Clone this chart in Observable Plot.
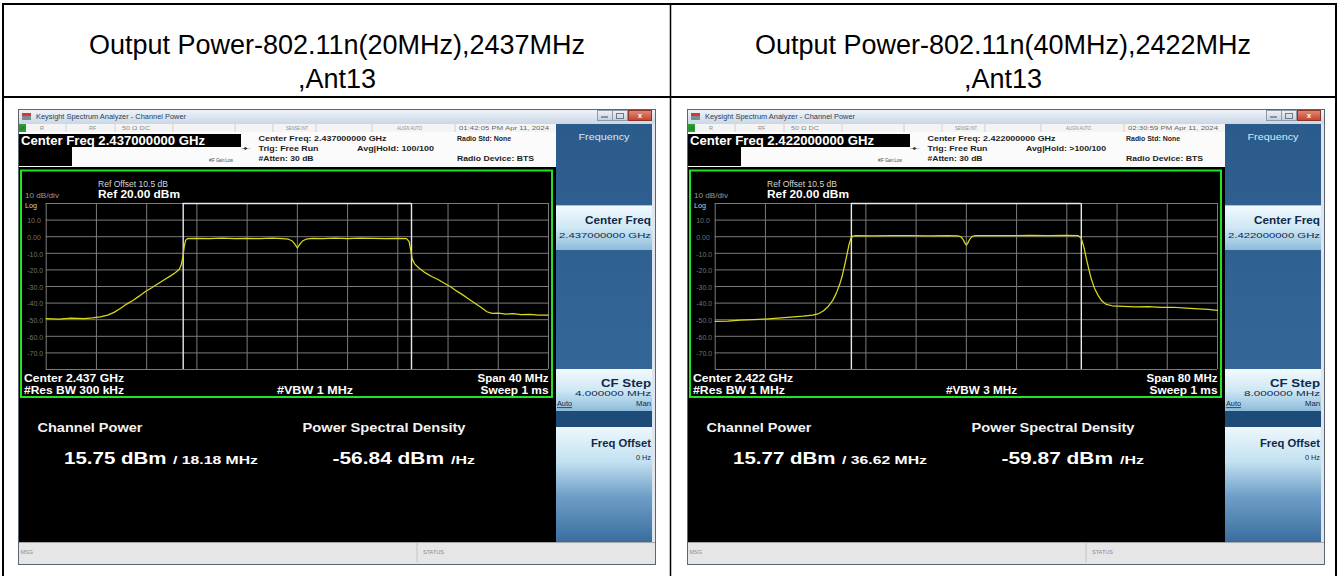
<!DOCTYPE html>
<html><head><meta charset="utf-8">
<script src="https://cdn.jsdelivr.net/npm/d3@7"></script>
<script src="https://cdn.jsdelivr.net/npm/@observablehq/plot@0.6"></script>
<style>
html,body{margin:0;padding:0;background:#fff;}
#root{position:relative;width:1339px;height:576px;overflow:hidden;}
#root > svg{position:absolute;left:0;top:0;}
</style></head><body><div id="root"></div>
<script>
// ---------- data ----------
const titleLine1 = ["Output Power-802.11n(20MHz),2437MHz", "Output Power-802.11n(40MHz),2422MHz"];
const titleLine2 = [",Ant13", ",Ant13"];
const centerFreqLong = ["2.437000000", "2.422000000"];
const centerFreqShort = ["2.437", "2.422"];
const spanMHz = [40, 80];
const rbwLabel = ["300 kHz", "1 MHz"];
const vbwLabel = ["1 MHz", "3 MHz"];
const avgHold = ["100/100", ">100/100"];
const timeStamp = ["01:42:05 PM Apr 11, 2024", "02:30:59 PM Apr 11, 2024"];
const cfStep = ["4.000000 MHz", "8.000000 MHz"];
const channelPower = ["15.75", "15.77"];
const integBW = [18.18, 36.62];
const psdValue = ["-56.84", "-59.87"];
const refLevel = 20;
const dbPerDiv = 10;
const yTickValues = [10, 0, -10, -20, -30, -40, -50, -60, -70];
const yTickLabels = ["10.0", "0.00", "-10.0", "-20.0", "-30.0", "-40.0", "-50.0", "-60.0", "-70.0"];

const freq20 = [-20.0,-19.0,-18.0,-17.0,-16.3,-15.7,-15.1,-14.6,-14.1,-13.6,-13.1,-12.6,-12.1,-11.6,-11.1,-10.6,-10.1,-9.7,-9.4,-9.25,-9.12,-9.0,-8.9,-8.75,-8.0,-7.0,-6.0,-5.0,-4.0,-3.0,-2.0,-1.2,-0.7,-0.4,-0.2,0.0,0.2,0.4,0.7,1.2,2.0,3.0,4.0,5.0,6.0,7.0,8.0,8.7,8.9,9.05,9.15,9.35,9.7,10.2,10.7,11.2,11.7,12.2,12.7,13.2,13.7,14.2,14.7,15.1,15.5,16.0,16.6,17.2,17.8,18.5,19.2,20.0];
const power20 = [-49.4,-49.6,-49.1,-49.3,-48.9,-48.3,-47.2,-45.6,-43.2,-40.6,-38.4,-35.8,-33.0,-30.8,-28.4,-25.9,-23.6,-21.6,-19.6,-17.0,-12.5,-5.5,-2.2,-1.2,-1.0,-1.2,-0.9,-1.1,-1.0,-1.2,-0.9,-1.1,-1.5,-2.6,-4.5,-6.8,-4.5,-2.6,-1.5,-1.0,-1.1,-0.9,-1.1,-0.9,-1.0,-1.1,-1.0,-1.2,-3.0,-9.0,-13.5,-16.5,-19.0,-21.8,-24.0,-25.8,-28.0,-30.2,-32.8,-35.2,-37.8,-40.4,-43.0,-45.2,-46.2,-46.0,-46.6,-46.4,-46.9,-46.8,-47.3,-47.2];

const freq40 = [-40.0,-38.0,-36.0,-34.0,-32.0,-30.0,-28.0,-26.0,-24.5,-23.5,-22.8,-22.0,-21.3,-20.7,-20.2,-19.8,-19.4,-19.0,-18.7,-18.4,-18.1,-17.6,-15.0,-12.0,-9.0,-6.0,-3.0,-1.4,-0.9,-0.5,-0.2,0.0,0.2,0.5,0.9,1.4,4.0,7.0,10.0,13.0,16.0,17.8,18.3,18.7,19.1,19.5,19.9,20.4,21.0,21.6,22.3,23.2,25.0,27.0,29.0,31.0,33.0,35.0,37.0,38.5,40.0];
const power40 = [-51.0,-50.8,-50.3,-50.0,-49.6,-49.0,-48.5,-47.9,-47.2,-46.3,-44.8,-42.0,-38.5,-34.0,-29.0,-24.0,-17.5,-10.5,-5.0,-1.2,0.3,0.6,0.5,0.7,0.6,0.5,0.6,0.5,0.0,-1.8,-4.0,-5.0,-4.0,-1.8,0.0,0.6,0.7,0.6,0.8,0.7,0.8,0.7,-1.0,-6.0,-13.0,-19.5,-25.5,-31.0,-35.5,-38.8,-40.8,-41.6,-41.9,-42.3,-42.1,-42.6,-42.5,-43.0,-43.5,-43.8,-44.4];

const traces = [[freq20, power20], [freq40, power40]];
const offsetsX = [0, 669];

// ---------- helpers ----------
const FONT = "'Liberation Sans', Arial, sans-serif";
const W = 1339, H = 576;
const root = d3.select("#root");
const bg = root.append("svg").attr("width", W).attr("height", H).style("z-index", 0);
const plotLayer = root.append("div").style("position","absolute").style("left","0").style("top","0")
  .style("width", W + "px").style("height", H + "px").style("z-index",1);
const fg = root.append("svg").attr("width", W).attr("height", H).style("z-index", 2)
  .style("pointer-events","none").style("font-family", FONT);
bg.style("font-family", FONT);

const defs = bg.append("defs");
function lg(id, stops) {
  const g = defs.append("linearGradient").attr("id", id).attr("x1",0).attr("y1",0).attr("x2",0).attr("y2",1);
  stops.forEach(([o,c]) => g.append("stop").attr("offset", o).attr("stop-color", c));
}
lg("tbar", [[0,"#eef3f9"],[1,"#cbd7e6"]]);
lg("skey", [[0,"#f3fafd"],[0.5,"#cfe8f5"],[1,"#8dbcdb"]]);
lg("skeyLong", [[0,"#eef8fc"],[0.3,"#c3e1f1"],[0.6,"#6f9fc8"],[1,"#3a6d9f"]]);
lg("panel", [[0,"#2b5b8b"],[1,"#3a6ea0"]]);
lg("closeb", [[0,"#e38a79"],[1,"#c4412c"]]);
lg("minb", [[0,"#eef2f7"],[1,"#c4cfdc"]]);

function R(g, x, y, w, h, fill, o = {}) {
  const r = g.append("rect").attr("x", x).attr("y", y).attr("width", w).attr("height", h).attr("fill", fill);
  if (o.stroke) r.attr("stroke", o.stroke).attr("stroke-width", o.sw || 1);
  return r;
}
function L(g, x1, y1, x2, y2, stroke, sw = 1) {
  g.append("line").attr("x1", x1).attr("y1", y1).attr("x2", x2).attr("y2", y2).attr("stroke", stroke).attr("stroke-width", sw);
}
function T(g, x, y, s, o = {}) {
  const t = g.append("text").attr("x", x).attr("y", y).attr("dy", "0.35em").text(s)
    .attr("font-size", o.size || 8).attr("fill", o.fill || "#000").attr("text-anchor", o.anchor || "start");
  if (o.weight) t.attr("font-weight", o.weight);
  if (o.len) t.attr("textLength", o.len).attr("lengthAdjust", "spacingAndGlyphs");
  if (o.deco) t.attr("text-decoration", o.deco);
  return t;
}

// ---------- table ----------
R(bg, 0, 0, W, H, "#fff");
L(bg, 2, 4, 1337, 4, "#000", 2);
L(bg, 3, 3, 3, 576, "#000", 2);
L(bg, 1336, 3, 1336, 576, "#000", 2);
L(bg, 2, 97, 1337, 97, "#000", 2);
L(bg, 670.5, 4, 670.5, 576, "#000", 1.5);
const cellCenters = [337, 1003];
cellCenters.forEach((cx, i) => {
  T(bg, cx, 45, titleLine1[i], {size: 27, fill: "#000", anchor: "middle"});
  T(bg, cx, 79, titleLine2[i], {size: 27, fill: "#000", anchor: "middle"});
});

// ---------- windows ----------
offsetsX.forEach((ox, i) => {
  const b = bg.append("g");
  const f = fg.append("g");
  // frame
  R(b, ox + 18.5, 109.5, 637, 455, "#dfe5ec", {stroke: "#5d6670"});
  R(b, ox + 19, 110, 636, 14, "url(#tbar)");
  R(b, ox + 22, 113, 9, 3, "#d23a2e");
  R(b, ox + 22, 116, 9, 4, "#7f8a99");
  T(b, ox + 36, 117, "Keysight Spectrum Analyzer - Channel Power", {size: 6.5, fill: "#2c3e57", len: 150});
  R(b, ox + 597.5, 110.5, 15, 10, "url(#minb)", {stroke: "#8d9aab"});
  R(b, ox + 612.5, 110.5, 15, 10, "url(#minb)", {stroke: "#8d9aab"});
  L(b, ox + 601, 117, ox + 608, 117, "#6d7a8c", 1.5);
  R(b, ox + 616.5, 113.5, 7, 5, "none", {stroke: "#6d7a8c"});
  R(b, ox + 628.5, 110.5, 23, 10, "url(#closeb)", {stroke: "#8c3526"});
  T(b, ox + 640, 115.5, "x", {size: 8, fill: "#fff", anchor: "middle", weight: "bold"});
  // status row
  R(b, ox + 19, 124, 537, 8, "#f4f4f4");
  R(b, ox + 19, 124, 7, 8, "#2e9c35");
  T(b, ox + 20, 128, "LXI", {size: 4.5, fill: "#062", len: 5.5});
  [66, 115, 173, 235, 273, 316, 372, 455].forEach(sx => L(b, ox + sx, 124, ox + sx, 132, "#c9c9c9", 0.8));
  const sFill = "#8a8a8a";
  T(b, ox + 40, 128, "R", {size: 5.5, fill: sFill});
  T(b, ox + 89, 128, "RF", {size: 5.5, fill: sFill});
  T(b, ox + 122, 128, "50 Ω   DC", {size: 5.5, fill: sFill, len: 28});
  T(b, ox + 286, 128, "SENSE:INT", {size: 5.5, fill: sFill, len: 22});
  T(b, ox + 397, 128, "ALIGN AUTO", {size: 5.5, fill: sFill, len: 25});
  T(b, ox + 459, 128, timeStamp[i], {size: 5.5, fill: "#666", len: 90});
  // header
  R(b, ox + 19, 132, 537, 35, "#fbfbfb");
  R(b, ox + 19, 134, 222, 13, "#000");
  R(b, ox + 19, 147, 53, 19, "#000");
  T(b, ox + 21, 140.5, "Center Freq " + centerFreqLong[i] + " GHz", {size: 12, weight: "bold", fill: "#fff", len: 184});
  const hf = "#1e1e1e";
  T(b, ox + 258.5, 138.5, "Center Freq: " + centerFreqLong[i] + " GHz", {size: 8, weight: "bold", fill: hf, len: 128});
  T(b, ox + 258.5, 148.5, "Trig: Free Run", {size: 8, weight: "bold", fill: hf, len: 60});
  T(b, ox + 258.5, 158.5, "#Atten: 30 dB", {size: 8, weight: "bold", fill: hf, len: 55});
  T(b, ox + 357, 148.5, "Avg|Hold: " + avgHold[i], {size: 8, weight: "bold", fill: hf, len: i ? 80 : 77});
  T(b, ox + 457, 138.5, "Radio Std: None", {size: 8, weight: "bold", fill: hf, len: 54});
  T(b, ox + 457, 158.5, "Radio Device: BTS", {size: 8, weight: "bold", fill: hf, len: 77});
  T(b, ox + 209, 160, "#IF Gain:Low", {size: 5.5, fill: "#444", len: 24});
  T(b, ox + 241, 148, "-◂▸-", {size: 6, fill: "#333", len: 9});
  // display background
  R(b, ox + 19, 167, 537, 375, "#000");
  // soft key panel
  R(b, ox + 556, 124, 96, 418, "url(#panel)");
  R(b, ox + 556, 205, 96, 45, "url(#skey)");
  L(b, ox + 556, 205.5, ox + 652, 205.5, "#9fc6e0", 1);
  R(b, ox + 556, 369, 96, 42, "url(#skey)");
  R(b, ox + 556, 411, 96, 16, "#1f4b79");
  R(b, ox + 556, 427, 96, 115, "url(#skeyLong)");
  T(b, ox + 604, 137, "Frequency", {size: 9.5, fill: "#dce9f6", anchor: "middle", len: 51});
  const kf = "#10284a";
  T(b, ox + 651, 220, "Center Freq", {size: 10, weight: "bold", fill: kf, anchor: "end", len: 66});
  T(b, ox + 651, 235, centerFreqLong[i] + " GHz", {size: 8, fill: kf, anchor: "end", len: 92});
  T(b, ox + 651, 383, "CF Step", {size: 10, weight: "bold", fill: kf, anchor: "end", len: 50});
  T(b, ox + 651, 393.5, cfStep[i], {size: 8, fill: kf, anchor: "end", len: 76});
  T(b, ox + 557, 403.5, "Auto", {size: 8, fill: kf, len: 15, deco: "underline"});
  T(b, ox + 651, 403.5, "Man", {size: 8, fill: kf, anchor: "end", len: 15});
  T(b, ox + 651, 443, "Freq Offset", {size: 10, weight: "bold", fill: kf, anchor: "end", len: 60});
  T(b, ox + 651, 457, "0 Hz", {size: 8, fill: kf, anchor: "end", len: 15});
  // status bar
  R(b, ox + 19, 542, 636, 20, "#e6e6e6");
  L(b, ox + 19, 542.5, ox + 655, 542.5, "#a8a8a8", 1);
  L(b, ox + 417, 543, ox + 417, 562, "#c4c4c4", 1);
  T(b, ox + 20.5, 552, "MSG", {size: 5.5, fill: "#8a8a8a"});
  T(b, ox + 423, 552, "STATUS", {size: 5.5, fill: "#8a8a8a"});

  // ---------- spectrum plot (Observable Plot) ----------
  const span = spanMHz[i];
  const bw = integBW[i];
  const [fr, pw] = traces[i];
  const pts = fr.map((v, k) => ({f: v, p: pw[k]}));
  const xGrid = d3.range(11).map(k => -span / 2 + k * span / 10);
  const yGrid = d3.range(11).map(k => refLevel - k * dbPerDiv);
  const chart = Plot.plot({
    width: 532, height: 227,
    marginLeft: 25.7, marginRight: 4, marginTop: 33, marginBottom: 28,
    x: {domain: [-span / 2, span / 2], axis: null},
    y: {domain: [refLevel - 10 * dbPerDiv, refLevel], axis: null},
    style: {background: "#000", fontFamily: FONT, overflow: "visible", maxWidth: "none"},
    marks: [
      Plot.ruleX(xGrid, {stroke: "#7b7b7b", strokeWidth: 1}),
      Plot.ruleY(yGrid, {stroke: "#7b7b7b", strokeWidth: 1}),
      Plot.ruleX([-bw / 2, bw / 2], {stroke: "#e8e8e8", strokeWidth: 1.4}),
      Plot.ruleY([refLevel], {x1: -bw / 2, x2: bw / 2, stroke: "#e8e8e8", strokeWidth: 1.4}),
      Plot.line(pts, {x: "f", y: "p", stroke: "#d9d91c", strokeWidth: 1.25}),
      Plot.text(yTickValues, {frameAnchor: "left", y: d => d, text: (d, k) => yTickLabels[k],
        textAnchor: "start", dx: -19, dy: 1, fill: "#747474", fontSize: 7})
    ]
  });
  chart.style.position = "absolute";
  chart.style.left = (ox + 20) + "px";
  chart.style.top = "170px";
  chart.style.maxWidth = "none";
  chart.style.width = "532px";
  chart.style.height = "227px";
  plotLayer.node().appendChild(chart);

  // ---------- overlay texts ----------
  R(f, ox + 21, 170.5, 531, 226.5, "none", {stroke: "#22e322", sw: 2});
  T(f, ox + 98, 184.5, "Ref Offset 10.5 dB", {size: 8.5, fill: "#d6d6d6", len: 70});
  T(f, ox + 98, 194.5, "Ref 20.00 dBm", {size: 11, weight: "bold", fill: "#fff", len: 82});
  T(f, ox + 25, 195.5, "10 dB/div", {size: 8, fill: "#9a9a9a", len: 34});
  T(f, ox + 25, 205.5, "Log", {size: 8, fill: "#cfcfcf", len: 12});
  T(f, ox + 24, 378, "Center  " + centerFreqShort[i] + " GHz", {size: 10.5, weight: "bold", fill: "#fff", len: 100});
  T(f, ox + 24, 390, "#Res BW  " + rbwLabel[i], {size: 10.5, weight: "bold", fill: "#fff", len: i ? 92 : 100});
  T(f, ox + 277, 390, "#VBW  " + vbwLabel[i], {size: 10.5, weight: "bold", fill: "#fff", len: i ? 71 : 76});
  T(f, ox + 548.5, 378, "Span " + span + " MHz", {size: 10.5, weight: "bold", fill: "#fff", anchor: "end", len: 71});
  T(f, ox + 548.5, 390, "Sweep  1 ms", {size: 10.5, weight: "bold", fill: "#fff", anchor: "end", len: 68});
  T(f, ox + 37.5, 427, "Channel Power", {size: 13, weight: "bold", fill: "#f2f2f2", len: 105});
  T(f, ox + 302.5, 427, "Power Spectral Density", {size: 13, weight: "bold", fill: "#f2f2f2", len: 163});
  T(f, ox + 64, 458.5, channelPower[i] + " dBm", {size: 17, weight: "bold", fill: "#fff", len: 102.5});
  T(f, ox + 173, 460, "/ " + integBW[i].toFixed(2) + " MHz", {size: 11, weight: "bold", fill: "#fff", len: 85});
  T(f, ox + 332.5, 458.5, psdValue[i] + " dBm", {size: 17, weight: "bold", fill: "#fff", len: 111.5});
  T(f, ox + 451, 460, "/Hz", {size: 11, weight: "bold", fill: "#fff", len: 24});
});
</script></body></html>
